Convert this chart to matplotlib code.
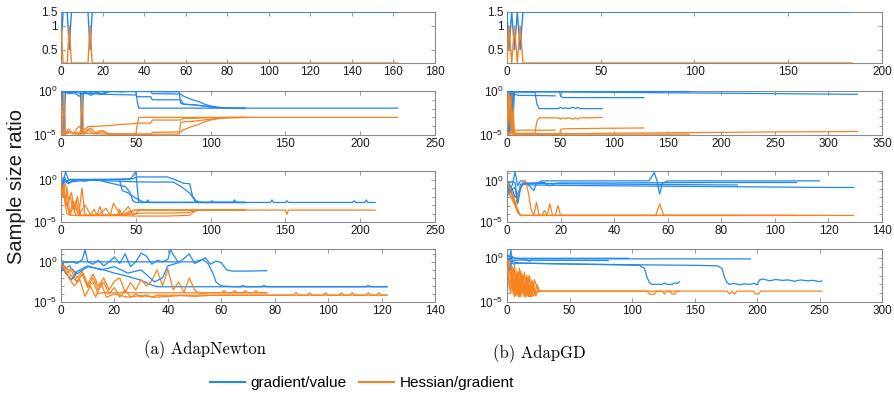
import numpy as np
import matplotlib
matplotlib.use("Agg")
import matplotlib.pyplot as plt
from matplotlib.lines import Line2D
from matplotlib.ticker import FixedLocator, NullFormatter, NullLocator

plt.rcParams['font.family'] = ['Liberation Sans', 'DejaVu Sans']
plt.rcParams['mathtext.fontset'] = 'custom'
plt.rcParams['mathtext.rm'] = 'Liberation Sans'
plt.rcParams['mathtext.it'] = 'Liberation Sans:italic'
plt.rcParams['mathtext.bf'] = 'Liberation Sans:bold'

BLUE = '#2288f0'
ORANGE = '#f5831f'

# ---------------- row 1 (plain ratio values) ----------------
n1_x = [0, 1, 3, 4, 5, 13, 14, 15, 162]
n1_blue = [0.5, 1.5, 1.5, 0.5, 1.5, 1.5, 0.5, 1.5, 1.5]
n1_orange = [1.0, 0.34, 0.34, 1.0, 0.34, 0.34, 1.0, 0.34, 0.34]

g1_x = [0, 1, 2.5, 4, 5.5, 7, 8.5, 184]
g1_blue = [1.5, 0.5, 1.5, 0.5, 1.5, 0.5, 1.5, 1.5]
g1_orange = [0.34, 1.0, 0.34, 1.0, 0.34, 1.0, 0.34, 0.34]

# ---------------- rows 2-4: values are log10 of the ratio ----------------
# AdapNewton, row 2
n2_x1 = [0, 1, 2, 3, 4, 13, 14, 15, 18, 22, 26, 30, 35, 40, 45, 50, 51, 52, 225]
n2_b1 = [-0.1, -0.05, -4.9, -0.05, -0.05, -0.05, -4.9, -0.05, -0.3, -0.05, -0.4, -0.1, -0.05, -0.1, -0.05, -0.05, -1.2, -1.95, -1.95]
n2_o1 = [-4.9, -4.9, -0.05, -4.9, -4.6, -4.9, -0.05, -4.9, -4.3, -4.9, -4.5, -4.8, -4.9, -4.9, -4.9, -4.9, -3.8, -3.0, -3.0]
n2_x2 = [0, 1, 3, 5, 8, 12, 16, 20, 24, 28, 32, 40, 50, 60, 70, 79, 80, 82, 88, 95, 100, 105, 110, 123]
n2_b2 = [-4.0, -0.05, -0.05, -0.3, -0.05, -0.6, -0.1, -0.5, -0.1, -0.4, -0.05, -0.05, -0.05, -0.05, -0.1, -0.1, -1.4, -1.5, -1.55, -1.7, -1.8, -1.9, -1.95, -1.95]
n2_o2 = [-1.0, -4.9, -4.9, -4.3, -4.9, -4.0, -4.8, -4.2, -4.9, -4.5, -4.9, -4.9, -4.9, -4.9, -4.9, -4.9, -3.6, -3.5, -3.45, -3.3, -3.2, -3.1, -3.05, -3.0]
n2_x3 = [0, 2, 5, 10, 15, 18, 25, 30, 40, 50, 51, 60, 61, 70, 80, 82, 90, 95, 100, 103, 110, 115, 123]
n2_b3 = [-0.2, -0.1, -0.3, -0.2, -0.3, -0.3, -0.35, -0.38, -0.42, -0.45, -0.65, -0.65, -1.0, -1.0, -1.0, -1.5, -1.6, -1.7, -1.8, -1.85, -1.9, -1.95, -1.95]
n2_o3 = [-4.8, -4.9, -4.7, -4.8, -4.5, -4.05, -4.0, -3.95, -3.8, -3.7, -3.65, -3.65, -3.3, -3.3, -3.3, -3.1, -3.1, -3.05, -3.05, -3.05, -3.0, -3.0, -3.0]
n2_x4 = [0, 3, 6, 10, 20, 30, 40, 50, 60, 61, 80, 82, 88, 92, 96, 100, 105, 110, 123]
n2_b4 = [-0.05, -0.05, -0.2, -0.05, -0.1, -0.05, -0.05, -0.05, -0.05, -0.3, -0.35, -0.6, -1.0, -1.2, -1.5, -1.7, -1.85, -1.95, -2.0]
n2_o4 = [-4.9, -4.9, -4.7, -4.9, -4.8, -4.9, -4.9, -4.9, -4.9, -4.7, -4.65, -4.4, -4.0, -3.8, -3.5, -3.3, -3.15, -3.05, -3.0]

# AdapGD, row 2
g2_x1 = [0, 1, 2, 3, 5, 7, 8, 10, 50, 100, 170]
g2_b1 = [-0.1, -4.8, -0.05, -0.05, -4.8, -0.05, -0.05, -0.05, -0.05, -0.05, -0.08]
g2_o1 = [-4.8, -0.1, -4.9, -4.9, -0.1, -4.9, -4.9, -4.9, -4.9, -4.9, -4.9]
g2_x2 = [0, 3, 4, 6, 10, 50, 100, 150, 200, 250, 300, 327]
g2_b2 = [-0.05, -0.05, -4.5, -0.1, -0.1, -0.12, -0.15, -0.2, -0.25, -0.3, -0.35, -0.38]
g2_o2 = [-4.9, -4.9, -0.4, -4.85, -4.85, -4.85, -4.8, -4.75, -4.7, -4.65, -4.62, -4.6]
g2_x3 = [0, 2, 6, 9, 10, 20, 30, 45]
g2_b3 = [-0.3, -4.6, -0.3, -0.4, -0.5, -0.5, -0.52, -0.55]
g2_o3 = [-4.7, -0.4, -4.6, -4.5, -4.45, -4.45, -4.45, -4.45]
g2_x4 = [0, 1, 4, 8, 26, 28, 30, 40, 48, 50, 52, 55, 57, 62, 64, 66, 68, 75, 88.7]
g2_b4 = [-0.05, -4.7, -0.1, -0.1, -0.15, -1.5, -2.0, -2.0, -2.0, -1.85, -2.0, -1.9, -2.0, -1.85, -2.0, -1.85, -2.0, -2.0, -2.0]
g2_o4 = [-4.9, -0.2, -4.8, -4.8, -4.8, -3.4, -3.05, -3.05, -3.05, -3.2, -3.05, -3.15, -3.05, -3.2, -3.05, -3.2, -3.05, -3.05, -3.0]
g2_x5 = [0, 3, 5, 10, 30, 49, 50, 52, 80, 127.6]
g2_b5 = [-0.05, -0.05, -0.05, -0.05, -0.05, -0.05, -0.6, -0.75, -0.75, -0.75]
g2_o5 = [-4.9, -0.6, -4.9, -4.9, -4.9, -4.9, -4.4, -4.3, -4.25, -4.2]

# AdapNewton, row 3
n3_bx1 = [0, 1, 2, 3, 5, 46, 48, 50, 51, 52, 57, 58, 59, 90, 91, 92, 100, 101, 102, 115, 116, 117, 140, 141, 142, 150, 151, 152, 195, 196, 197, 203, 204, 205, 210]
n3_by1 = [-1.0, -0.5, 0.0, 0.9, 0.0, 0.0, 0.4, 0.9, -1.0, -2.7, -2.7, -2.4, -2.7, -2.7, -2.5, -2.7, -2.7, -2.5, -2.7, -2.7, -2.4, -2.7, -2.7, -2.4, -2.7, -2.7, -2.5, -2.7, -2.7, -2.5, -2.7, -2.7, -2.4, -2.7, -2.7]
n3_bx2 = [0, 2, 4, 6, 8, 10, 12, 15, 20, 26, 30, 35, 40, 43, 46, 48, 50, 55, 123]
n3_by2 = [-0.5, -0.1, -0.3, 0.0, -0.2, -0.1, 0.0, -0.05, -0.1, -0.1, -0.3, -0.5, -0.7, -0.85, -1.5, -2.5, -2.7, -2.7, -2.7]
n3_bx3 = [0, 1, 3, 5, 8, 12, 16, 20, 30, 40, 48, 51, 60, 71, 76, 82, 86, 88, 91, 100, 123]
n3_by3 = [-1.5, -0.3, 0.0, -0.5, -0.1, 0.0, -0.2, 0.0, 0.0, 0.05, 0.1, 0.3, 0.3, 0.3, 0.0, -0.45, -0.5, -2.0, -2.7, -2.7, -2.7]
n3_bx4 = [0, 2, 4, 10, 20, 30, 39, 45, 51, 60, 75, 80, 86, 90, 95, 123]
n3_by4 = [-0.3, 0.3, -0.4, -0.2, -0.1, -0.15, -0.2, -0.25, -0.27, -0.3, -0.3, -0.8, -1.6, -2.6, -2.7, -2.7]
n3_bx5 = [0, 3, 6, 10, 20, 30, 39, 41, 45, 50, 55, 60, 123]
n3_by5 = [-0.8, -0.2, 0.0, 0.0, 0.0, 0.0, 0.0, -1.3, -1.6, -2.2, -2.65, -2.7, -2.7]
n3_ox1 = [0, 2, 4, 6, 8, 10, 12, 14, 16, 20, 25, 30, 33, 35, 40, 45, 48, 50, 52, 60, 100, 150, 151, 152, 210]
n3_oy1 = [0.0, -1.5, -3.0, -2.0, -3.5, -2.5, -4.0, -1.0, -4.2, -4.2, -4.2, -3.4, -4.2, -2.8, -4.2, -3.2, -4.2, -4.0, -3.6, -3.6, -3.6, -3.6, -4.1, -3.6, -3.6]
n3_ox2 = [0, 1, 3, 5, 7, 9, 11, 13, 15, 20, 22, 24, 26, 28, 30, 35, 40, 44, 46, 48, 50, 60, 123]
n3_oy2 = [-0.2, -1.0, -0.5, -2.5, -1.5, -3.8, -2.0, -4.2, -4.2, -4.2, -3.5, -4.2, -3.2, -4.2, -4.2, -4.15, -4.1, -4.1, -3.9, -3.7, -3.6, -3.6, -3.6]
n3_ox3 = [0, 2, 4, 6, 8, 10, 14, 20, 30, 40, 50, 60, 70, 80, 86, 88, 91, 100, 123]
n3_oy3 = [-1.0, -2.0, -3.0, -4.2, -3.0, -4.25, -4.25, -4.25, -4.25, -4.25, -4.3, -4.3, -4.3, -4.25, -4.2, -3.9, -3.6, -3.6, -3.6]
n3_ox4 = [0, 1, 2, 3, 4, 6, 8, 12, 16, 20, 30, 40, 50, 55, 70, 85, 89, 92, 123]
n3_oy4 = [0.0, -2.0, -0.5, -3.0, -1.0, -4.2, -2.5, -4.2, -3.0, -4.2, -4.2, -4.2, -4.0, -3.95, -3.95, -3.9, -3.7, -3.6, -3.6]
n3_ox5 = [0, 2, 4, 6, 10, 20, 30, 38, 39, 41, 45, 50, 55, 123]
n3_oy5 = [-0.5, -2.0, -4.0, -4.2, -4.2, -4.2, -4.2, -4.2, -3.5, -4.2, -3.8, -3.6, -3.6, -3.6]

# AdapGD, row 3
g3_bx1 = [0, 1, 2, 3, 4, 5, 10, 20, 40, 60, 80, 100, 120, 129.4]
g3_by1 = [-0.3, -0.2, -0.1, -0.2, -2.5, -0.4, -0.5, -0.55, -0.6, -0.65, -0.7, -0.75, -0.8, -0.8]
g3_bx2 = [0, 1, 2, 3, 4, 5, 6, 8, 10, 11, 13, 30, 53, 55, 56, 57, 58, 60, 80, 116.6]
g3_by2 = [-2.0, -1.0, -0.5, 1.1, -0.6, 0.0, 0.0, -0.5, -1.2, -0.3, 0.0, 0.0, 0.0, 1.0, 0.0, -1.6, -0.3, 0.0, 0.0, 0.0]
g3_bx3 = [0, 1, 2, 3, 4, 6, 14, 15, 16, 17, 18, 20, 40, 60, 80, 108]
g3_by3 = [0.0, -0.5, -1.0, -2.0, -1.5, -0.3, -0.2, -0.5, -0.6, -0.5, -0.3, -0.25, -0.25, -0.22, -0.2, -0.2]
g3_bx4 = [0, 1, 2, 3, 4, 5, 6, 20, 40, 60, 86]
g3_by4 = [-0.5, -1.5, -1.0, -0.8, -2.8, -1.0, -0.3, -0.35, -0.4, -0.45, -0.5]
g3_ox1 = [0, 1, 2, 3, 4, 5, 10, 11, 12, 20, 55.5, 57, 58.5, 129.4]
g3_oy1 = [-0.2, -1.0, -2.0, -3.0, -3.8, -4.2, -4.2, -2.6, -4.2, -4.2, -4.2, -2.8, -4.2, -4.2]
g3_ox2 = [0, 1, 2, 3, 4, 5, 13, 14, 15, 16, 17, 18, 19, 20, 116.6]
g3_oy2 = [0.0, -0.5, -1.5, -2.5, -3.5, -4.2, -4.2, -3.6, -4.2, -2.8, -4.2, -4.2, -3.0, -4.2, -4.2]
g3_ox3 = [0, 3, 5, 6, 7, 8, 9, 10, 108]
g3_oy3 = [-1.0, -3.0, -1.0, -0.1, 0.0, -1.5, -3.5, -4.2, -4.2]
g3_ox4 = [0, 1, 2, 3, 4, 5, 6, 86]
g3_oy4 = [-0.1, -0.8, -1.8, -2.8, -3.8, -4.2, -4.2, -4.2]

# AdapNewton, row 4
n4_bx1 = [0, 3, 6, 10, 15, 20, 25, 30, 34, 36, 50, 67, 68, 69, 75, 76, 77, 100, 114, 115, 116, 122]
n4_by1 = [-1.2, -0.5, -1.5, -0.6, -0.9, -1.4, -1.8, -2.3, -2.9, -3.1, -3.1, -3.1, -2.95, -3.1, -3.1, -2.95, -3.1, -3.1, -3.1, -2.95, -3.1, -3.1]
n4_bx2 = [0, 2, 4, 6, 8, 9, 10, 12, 14, 16, 18, 20, 22, 24, 26, 28, 30, 32, 34, 36, 38, 40, 41, 42, 44, 46, 48, 50, 52, 54, 56, 58, 60, 62, 64, 70, 77]
n4_by2 = [0.2, -0.1, 0.0, -0.2, 0.3, 1.5, 0.0, -0.3, 0.2, -0.5, 0.0, 0.6, -0.2, 1.0, -0.6, 0.0, 1.1, 0.7, -0.3, 0.2, 0.0, 0.3, 1.5, 0.9, -0.1, 0.4, 1.0, -0.2, 0.1, 0.5, -0.3, 0.1, -0.1, -1.0, -1.15, -1.15, -1.1]
n4_bx3 = [0, 1, 44]
n4_by3 = [-1.3, 0.0, 0.0]
n4_bx4 = [0, 2, 4, 6, 10, 15, 20, 25, 30, 35, 38, 40, 45, 50, 53, 55, 57, 58, 60, 65, 80, 100, 122]
n4_by4 = [-0.5, -1.5, -2.2, -1.2, -0.5, -1.0, -0.6, -1.4, -1.0, -2.5, -2.0, -0.5, 0.0, 0.0, 0.3, -0.2, -1.5, -2.5, -3.0, -3.1, -3.1, -3.1, -3.1]
n4_ox1 = [0, 2, 4, 6, 8, 10, 12, 14, 16, 18, 20, 22, 24, 26, 28, 30, 32, 34, 36, 40, 50, 60, 70, 80, 87, 88, 89, 92, 93, 94, 98, 99, 100, 104, 105, 106, 108, 109, 110, 114, 115, 116, 118, 119, 120, 122]
n4_oy1 = [0.0, -1.0, -1.8, -2.5, -1.5, -3.0, -2.0, -3.5, -2.5, -4.0, -3.2, -4.4, -3.5, -4.4, -4.0, -4.4, -4.1, -4.4, -4.15, -4.15, -4.15, -4.15, -4.15, -4.15, -4.15, -3.85, -4.15, -4.15, -3.85, -4.15, -4.15, -3.85, -4.15, -4.15, -3.85, -4.15, -4.15, -3.85, -4.15, -4.15, -3.85, -4.15, -4.15, -3.85, -4.15, -4.15]
n4_ox2 = [0, 2, 4, 6, 8, 10, 12, 14, 15, 16, 20, 30, 40, 50, 60, 61, 62, 64, 65, 66, 68, 69, 70, 72, 73, 74, 77]
n4_oy2 = [0.0, -0.8, -1.2, -2.5, -1.5, -3.2, -2.5, -4.0, -3.85, -3.85, -3.85, -3.85, -3.85, -3.85, -3.85, -3.6, -3.85, -3.85, -3.6, -3.85, -3.85, -3.6, -3.85, -3.85, -3.6, -3.85, -3.85]
n4_ox3 = [0, 2, 4, 6, 8, 10, 12, 14, 16, 18, 20, 22, 24, 26, 28, 30, 32, 34, 36, 38, 40, 42, 44, 46, 48, 50, 52, 55, 77]
n4_oy3 = [-0.5, -1.5, -0.8, -2.0, -1.2, -2.8, -1.5, -3.0, -2.0, -3.5, -2.4, -2.0, -3.8, -2.6, -3.5, -2.2, -3.0, -2.3, -1.0, -3.0, -0.9, -3.5, -2.5, -3.8, -2.0, -3.5, -4.0, -3.85, -3.85]
n4_ox4 = [0, 3, 5, 7, 9, 11, 13, 15, 17, 20, 25, 30, 35, 40, 45, 50, 55, 60, 100, 122]
n4_oy4 = [-0.2, -2.0, -3.0, -2.2, -4.3, -3.0, -4.4, -2.6, -4.4, -4.0, -4.4, -4.2, -4.4, -4.3, -4.2, -4.3, -4.2, -4.15, -4.15, -4.15]

# AdapGD, row 4
g4_bx1 = [0, 1, 2, 3, 4, 6, 10, 20, 50, 100, 150, 168, 172, 174, 176, 178, 182, 186, 190, 194, 198, 200, 202, 205, 210, 215, 220, 225, 230, 235, 240, 245, 250, 252]
g4_by1 = [-0.3, -1.0, -0.5, 1.0, -0.4, -0.5, -0.6, -0.62, -0.7, -0.78, -0.85, -0.9, -1.2, -2.2, -2.8, -3.0, -2.9, -3.05, -2.95, -3.0, -2.9, -3.05, -2.5, -2.4, -2.6, -2.45, -2.55, -2.5, -2.65, -2.5, -2.6, -2.55, -2.7, -2.6]
g4_bx2 = [0, 2, 5, 10, 30, 60, 90, 106, 110, 112, 114, 116, 120, 124, 126, 128, 132, 134, 136, 138]
g4_by2 = [-0.5, -0.3, -0.7, -0.6, -0.65, -0.72, -0.8, -0.85, -1.2, -2.2, -2.8, -3.0, -3.0, -3.0, -2.85, -3.0, -3.0, -2.85, -2.9, -2.7]
g4_bx3 = [0, 2, 4, 6, 8, 15, 18, 20, 50, 100, 150, 194.7]
g4_by3 = [0.0, -0.3, 0.2, -0.1, -0.1, -0.15, -0.4, -0.12, -0.12, -0.12, -0.12, -0.12]
g4_bx4 = [0, 1, 3, 5, 10, 50, 97]
g4_by4 = [-0.2, 0.3, -0.1, 0.0, -0.05, -0.05, -0.05]
g4_bx5 = [0, 2, 4, 10, 30, 81]
g4_by5 = [-0.6, -1.5, -0.3, -0.25, -0.28, -0.3]
g4_ox1 = [0, 2, 4, 6, 8, 10, 12, 14, 16, 18, 20, 22, 24, 26, 176, 178, 180, 182, 184, 197, 199, 201, 203, 252]
g4_oy1 = [-0.2, -3.5, -1.0, -4.2, -1.5, -4.3, -1.8, -4.4, -2.0, -4.4, -2.5, -4.2, -3.0, -3.77, -3.77, -4.1, -3.77, -4.1, -3.77, -3.77, -4.1, -4.1, -3.77, -3.77]
g4_ox2 = [0, 1, 3, 5, 7, 9, 11, 13, 15, 17, 19, 21, 23, 25, 112, 114, 116, 118, 120, 124, 126, 128, 130, 132, 134, 136, 138]
g4_oy2 = [0.0, -2.0, -4.0, -1.2, -4.3, -1.6, -4.4, -2.0, -4.4, -2.2, -4.4, -2.8, -4.3, -3.77, -3.77, -4.1, -4.15, -4.1, -3.77, -3.77, -4.1, -3.77, -3.77, -4.1, -4.1, -3.77, -3.77]
g4_ox3 = [0, 2, 3, 5, 6, 8, 10, 12, 14, 16, 18, 20, 22, 25, 27]
g4_oy3 = [-1.0, -0.3, -2.5, -4.0, -0.8, -4.2, -1.2, -4.0, -1.6, -4.3, -2.0, -4.4, -2.5, -3.77, -3.77]
g4_ox4 = [0, 1.5, 3, 4.5, 6, 7.5, 9, 11, 13, 15, 17, 19, 21, 24]
g4_oy4 = [-0.5, -1.5, -0.6, -3.0, -4.4, -2.0, -4.4, -1.5, -4.2, -2.4, -4.4, -3.0, -4.3, -3.77]
g4_ox5 = [0, 2, 4, 6, 8, 10, 12, 14, 16, 18, 20]
g4_oy5 = [-0.3, -1.5, -3.0, -4.3, -2.0, -4.4, -2.5, -4.2, -3.0, -4.4, -3.77]

panels = {
    (1, 0): ([(n2_x1, n2_b1), (n2_x2, n2_b2), (n2_x3, n2_b3), (n2_x4, n2_b4)],
             [(n2_x1, n2_o1), (n2_x2, n2_o2), (n2_x3, n2_o3), (n2_x4, n2_o4)]),
    (1, 1): ([(g2_x1, g2_b1), (g2_x2, g2_b2), (g2_x3, g2_b3), (g2_x4, g2_b4), (g2_x5, g2_b5)],
             [(g2_x1, g2_o1), (g2_x2, g2_o2), (g2_x3, g2_o3), (g2_x4, g2_o4), (g2_x5, g2_o5)]),
    (2, 0): ([(n3_bx1, n3_by1), (n3_bx2, n3_by2), (n3_bx3, n3_by3), (n3_bx4, n3_by4), (n3_bx5, n3_by5)],
             [(n3_ox1, n3_oy1), (n3_ox2, n3_oy2), (n3_ox3, n3_oy3), (n3_ox4, n3_oy4), (n3_ox5, n3_oy5)]),
    (2, 1): ([(g3_bx1, g3_by1), (g3_bx2, g3_by2), (g3_bx3, g3_by3), (g3_bx4, g3_by4)],
             [(g3_ox1, g3_oy1), (g3_ox2, g3_oy2), (g3_ox3, g3_oy3), (g3_ox4, g3_oy4)]),
    (3, 0): ([(n4_bx1, n4_by1), (n4_bx2, n4_by2), (n4_bx3, n4_by3), (n4_bx4, n4_by4)],
             [(n4_ox1, n4_oy1), (n4_ox2, n4_oy2), (n4_ox3, n4_oy3), (n4_ox4, n4_oy4)]),
    (3, 1): ([(g4_bx1, g4_by1), (g4_bx2, g4_by2), (g4_bx3, g4_by3), (g4_bx4, g4_by4), (g4_bx5, g4_by5)],
             [(g4_ox1, g4_oy1), (g4_ox2, g4_oy2), (g4_ox3, g4_oy3), (g4_ox4, g4_oy4), (g4_ox5, g4_oy5)]),
}

x_limits = {(0, 0): (180, 20), (0, 1): (200, 50),
            (1, 0): (250, 50), (1, 1): (350, 50),
            (2, 0): (250, 50), (2, 1): (140, 20),
            (3, 0): (140, 20), (3, 1): (300, 50)}
y_tops = {(1, 0): 0, (1, 1): 0, (2, 0): 1, (2, 1): 1.2, (3, 0): 1.6, (3, 1): 1}

# layout in pixels (895 x 399)
W, H = 895, 399
cols = [(61, 435), (507, 882)]
rows = [(12, 63), (91, 135), (171, 222), (249, 302)]

fig = plt.figure(figsize=(W / 100, H / 100), dpi=100)

for r, (top, bot) in enumerate(rows):
    for c, (left, right) in enumerate(cols):
        ax = fig.add_axes([left / W, 1 - bot / H, (right - left) / W, (bot - top) / H])
        xmax, xstep = x_limits[(r, c)]
        if r == 0:
            xs, yb, yo = (n1_x, n1_blue, n1_orange) if c == 0 else (g1_x, g1_blue, g1_orange)
            ax.plot(xs, yb, color=BLUE, lw=1.0, zorder=3)
            ax.plot(xs, yo, color=ORANGE, lw=1.0, zorder=3)
            ax.set_yscale('log')
            ax.set_ylim(0.34, 1.5)
            ax.yaxis.set_major_locator(FixedLocator([0.5, 1, 1.5]))
            ax.set_yticklabels(['0.5', '1', '1.5'])
            ax.yaxis.set_minor_locator(NullLocator())
        else:
            blues, oranges = panels[(r, c)]
            for (bx, by), (ox, oy) in zip(blues, oranges):
                ax.plot(bx, 10.0 ** np.array(by), color=BLUE, lw=0.9, zorder=3)
                ax.plot(ox, 10.0 ** np.array(oy), color=ORANGE, lw=0.9, zorder=3)
            ax.set_yscale('log')
            ax.set_ylim(1e-5, 10.0 ** y_tops[(r, c)])
            ax.yaxis.set_major_locator(FixedLocator([1e-5, 1]))
            ax.set_yticklabels(['$10^{-5}$', '$10^{0}$'])
            ax.yaxis.set_minor_locator(FixedLocator([1e-4, 1e-3, 1e-2, 1e-1, 10]))
            ax.yaxis.set_minor_formatter(NullFormatter())
        ax.set_xlim(0, xmax)
        ax.set_xticks(np.arange(0, xmax + 1, xstep))
        ax.xaxis.set_minor_locator(NullLocator())
        ax.tick_params(which='both', direction='in', top=True, right=True,
                       colors='#8a8a8a', labelcolor='#1a1a1a', labelsize=8.5, width=0.6)
        ax.tick_params(which='major', length=3, pad=2.5)
        ax.tick_params(which='minor', length=2)
        for s in ax.spines.values():
            s.set_color('#8a8a8a')
            s.set_linewidth(0.8)

fig.text(17 / W, 1 - 187 / H, 'Sample size ratio', rotation=90, fontsize=14.5,
         ha='center', va='center', color='#1a1a1a')
fig.text(205 / W, 1 - 350 / H, '(a) AdapNewton', fontfamily='cmr10', fontsize=12,
         ha='center', va='center')
fig.text(539 / W, 1 - 354 / H, '(b) AdapGD', fontfamily='cmr10', fontsize=12,
         ha='center', va='center')

handles = [Line2D([], [], color=BLUE, lw=1.5), Line2D([], [], color=ORANGE, lw=1.5)]
fig.legend(handles, ['gradient/value', 'Hessian/gradient'], loc='center',
           bbox_to_anchor=(362 / W, 1 - 383 / H), ncol=2, frameon=False,
           prop={'family': 'Liberation Sans', 'size': 11},
           handlelength=2.3, handletextpad=0.35, columnspacing=0.8)

fig.savefig('out.png', dpi=100)
